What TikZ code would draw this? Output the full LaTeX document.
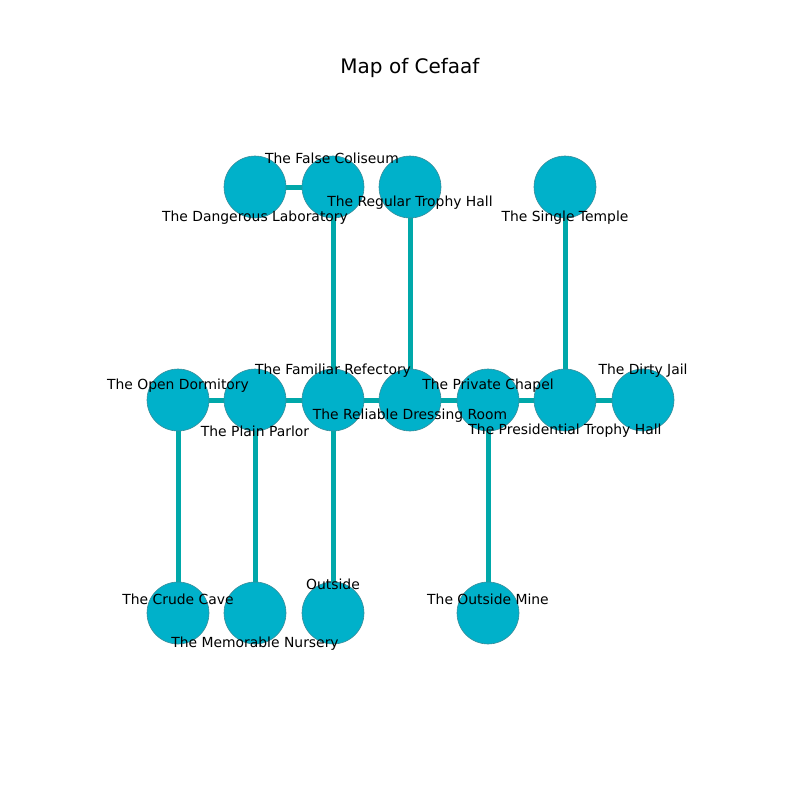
\documentclass[tikz,border=0pt]{standalone}
\usepackage{fontspec}
\setmainfont{DejaVu Sans}
\definecolor{edgec}{HTML}{00A8AA}
\definecolor{nodec}{HTML}{00B1CA}
\definecolor{borderc}{HTML}{3A8C99}
\pgfdeclarelayer{edges}
\pgfsetlayers{edges,main}
\begin{document}
\begin{tikzpicture}[x=1pt,y=-1pt,
  room/.style={circle,minimum size=62pt,inner sep=0pt,fill=nodec,draw=borderc,line width=0.6pt},
  link/.style={draw=edgec,line width=5pt},
  lbl/.style={inner sep=0pt,font=\fontsize{13.9}{16}\selectfont,text=black}]
\useasboundingbox (0,0) rectangle (800,800);
\node[font=\fontsize{20}{24}\selectfont] (title) at (410,68) {Map of Cefaaf};
% nodes
\node[room] (dl) at (255,187) {};
\node[room] (fc) at (333,187) {};
\node[room] (rt) at (410,187) {};
\node[room] (st) at (565,187) {};
\node[room] (od) at (178,400) {};
\node[room] (pp) at (255,400) {};
\node[room] (fr) at (333,400) {};
\node[room] (rd) at (410,400) {};
\node[room] (pc) at (488,400) {};
\node[room] (pt) at (565,400) {};
\node[room] (dj) at (643,400) {};
\node[room] (cc) at (178,613) {};
\node[room] (mn) at (255,613) {};
\node[room] (ou) at (333,613) {};
\node[room] (om) at (488,613) {};
% edges
\begin{pgfonlayer}{edges}
\path[link] (dl.center) -- (fc.center);
\path[link] (fc.center) -- (fr.center);
\path[link] (rt.center) -- (rd.center);
\path[link] (st.center) -- (pt.center);
\path[link] (od.center) -- (pp.center);
\path[link] (pp.center) -- (fr.center);
\path[link] (fr.center) -- (rd.center);
\path[link] (rd.center) -- (pc.center);
\path[link] (pc.center) -- (pt.center);
\path[link] (pt.center) -- (dj.center);
\path[link] (od.center) -- (cc.center);
\path[link] (pp.center) -- (mn.center);
\path[link] (fr.center) -- (ou.center);
\path[link] (pc.center) -- (om.center);
\end{pgfonlayer}
% labels
\node[lbl] (l-dl) at (255,218) {The Dangerous Laboratory};
\node[lbl] (l-fc) at (332,158) {The False Coliseum};
\node[lbl] (l-rt) at (410,203) {The Regular Trophy Hall};
\node[lbl] (l-st) at (565,218) {The Single Temple};
\node[lbl] (l-od) at (178,386) {The Open Dormitory};
\node[lbl] (l-pp) at (255,431) {The Plain Parlor};
\node[lbl] (l-fr) at (333,371) {The Familiar Refectory};
\node[lbl] (l-rd) at (410,416) {The Reliable Dressing Room};
\node[lbl] (l-pc) at (488,386) {The Private Chapel};
\node[lbl] (l-pt) at (565,431) {The Presidential Trophy Hall};
\node[lbl] (l-dj) at (643,371) {The Dirty Jail};
\node[lbl] (l-cc) at (178,599) {The Crude Cave};
\node[lbl] (l-mn) at (255,644) {The Memorable Nursery};
\node[lbl] (l-ou) at (333,584) {Outside};
\node[lbl] (l-om) at (488,599) {The Outside Mine};
\end{tikzpicture}
\end{document}
